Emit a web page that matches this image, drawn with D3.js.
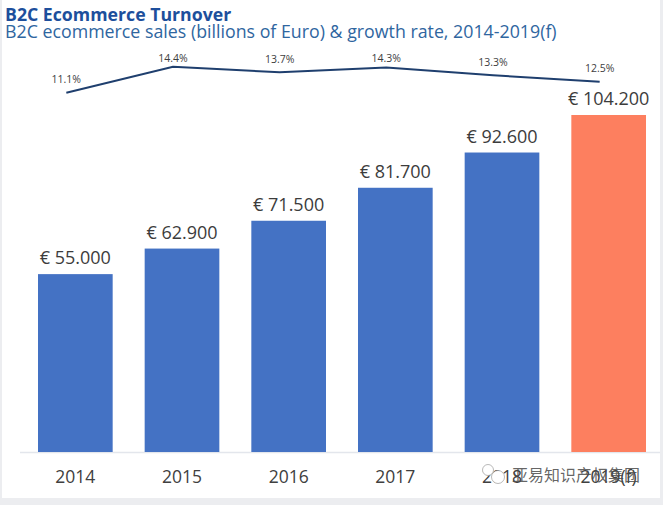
<!DOCTYPE html>
<html>
<head>
<meta charset="utf-8">
<script src="https://cdn.jsdelivr.net/npm/d3@7"></script>
<style>
  html, body { margin: 0; padding: 0; background: #ecedf0; }
  svg { display: block; }
  text { font-family: "Open Sans", sans-serif; }
</style>
</head>
<body>
<div id="chart"></div>
<script>
// chart data
var years = ["2014", "2015", "2016", "2017", "2018", "2019(f)"];
var sales = [55000, 62900, 71500, 81700, 92600, 104200];
var salesLabels = ["€ 55.000", "€ 62.900", "€ 71.500", "€ 81.700", "€ 92.600", "€ 104.200"];
var growth = [11.1, 14.4, 13.7, 14.3, 13.3, 12.5];

var svgWidth = 663;
var svgHeight = 505;
var baseline = 452;

var svg = d3.select("#chart")
  .append("svg")
  .attr("width", svgWidth)
  .attr("height", svgHeight);

// white card on the grey page
svg.append("rect")
  .attr("x", 2)
  .attr("y", 0)
  .attr("width", 658)
  .attr("height", 498)
  .attr("fill", "#ffffff");

// x scale for bars
var x = d3.scaleBand()
  .domain(years)
  .range([22, 662])
  .paddingInner(0.3)
  .paddingOuter(0.15);

// y scale, 3.236px per thousand
var y = d3.scaleLinear()
  .domain([0, 104200])
  .range([baseline, 115]);

// growth line scale
var yGrowth = d3.scaleLinear()
  .domain([11.1, 14.4])
  .range([92.7, 66.7]);

// baseline
svg.append("line")
  .attr("x1", 20)
  .attr("x2", 660)
  .attr("y1", baseline + 0.5)
  .attr("y2", baseline + 0.5)
  .attr("stroke", "#e3e6ec")
  .attr("stroke-width", 1.5);

// bars
svg.append("g")
  .selectAll("rect")
  .data(sales)
  .enter()
  .append("rect")
  .attr("x", (d, i) => x(years[i]))
  .attr("y", d => y(d))
  .attr("width", x.bandwidth())
  .attr("height", d => baseline - y(d))
  .attr("fill", (d, i) => i == 5 ? "#fd7f5f" : "#4472c4");

// value labels
svg.append("g")
  .selectAll("text")
  .data(sales)
  .enter()
  .append("text")
  .attr("x", (d, i) => x(years[i]) + x.bandwidth() / 2)
  .attr("y", d => y(d) - 10)
  .attr("text-anchor", "middle")
  .attr("font-size", "18px")
  .attr("fill", "#3c3c3c")
  .text((d, i) => salesLabels[i]);

// x axis labels
svg.append("g")
  .selectAll("text")
  .data(years)
  .enter()
  .append("text")
  .attr("x", d => x(d) + x.bandwidth() / 2)
  .attr("y", 483)
  .attr("text-anchor", "middle")
  .attr("font-size", "17.5px")
  .attr("fill", "#404040")
  .text(d => d);

// growth line sits a little left of the bar centres
var lineX = (d, i) => x(years[i]) + x.bandwidth() / 2 - 9;

var line = d3.line()
  .x(lineX)
  .y(d => yGrowth(d));

svg.append("path")
  .datum(growth)
  .attr("d", line)
  .attr("fill", "none")
  .attr("stroke", "#1f3f6e")
  .attr("stroke-width", 2);

// the two highest labels sit closer to the line
svg.append("g")
  .selectAll("text")
  .data(growth)
  .enter()
  .append("text")
  .attr("x", lineX)
  .attr("y", d => yGrowth(d) - (d >= 14 ? 5 : 9.5))
  .attr("text-anchor", "middle")
  .attr("font-size", "10.5px")
  .attr("fill", "#404040")
  .text(d => d.toFixed(1) + "%");

// titles
svg.append("text")
  .attr("x", 5)
  .attr("y", 21)
  .attr("font-size", "17.7px")
  .attr("font-weight", "bold")
  .attr("fill", "#1d4f9c")
  .text("B2C Ecommerce Turnover");

svg.append("text")
  .attr("x", 5)
  .attr("y", 38)
  .attr("font-size", "17.8px")
  .attr("fill", "#2f669f")
  .text("B2C ecommerce sales (billions of Euro) & growth rate, 2014-2019(f)");

// watermark
var mark = svg.append("g").attr("fill", "#ffffff").attr("stroke", "#8a8a8a").attr("stroke-width", 0.6);
mark.append("circle").attr("cx", 488).attr("cy", 470).attr("r", 5.5);
mark.append("circle").attr("cx", 498).attr("cy", 477).attr("r", 6.5);

svg.append("text")
  .attr("x", 512)
  .attr("y", 481)
  .attr("font-size", "16px")
  .attr("fill", "#4a4a4a")
  .attr("fill-opacity", 0.85)
  .style("font-family", "'Noto Sans CJK SC'")
  .text("亚易知识产权集团");
</script>
</body>
</html>
